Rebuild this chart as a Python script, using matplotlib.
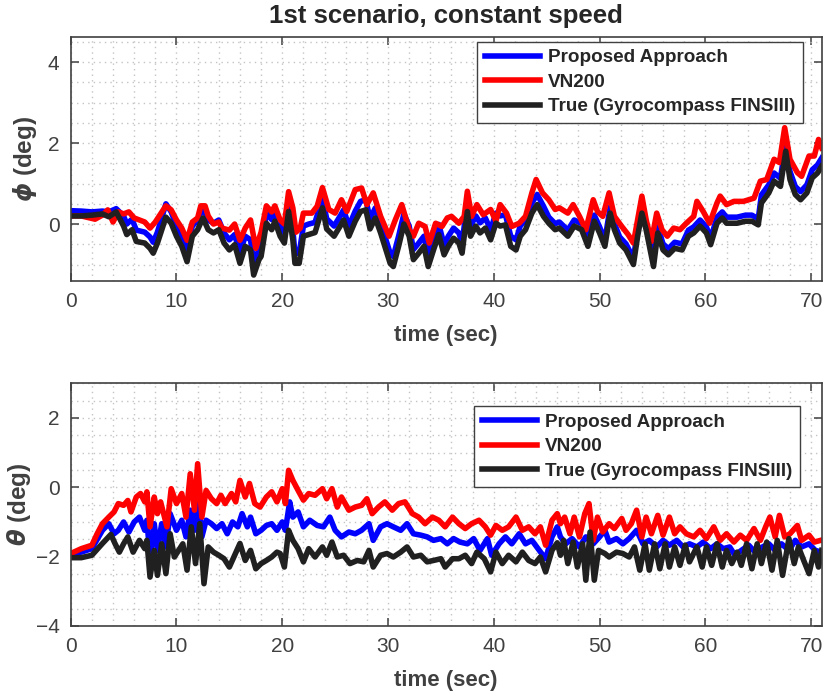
import matplotlib
matplotlib.use('Agg')
import matplotlib.pyplot as plt
from matplotlib.ticker import MultipleLocator

plt.rcParams['font.family'] = ['Liberation Sans', 'DejaVu Sans']
plt.rcParams['mathtext.fontset'] = 'custom'
plt.rcParams['mathtext.it'] = 'DejaVu Sans:italic:bold'
plt.rcParams['mathtext.rm'] = 'Liberation Sans:bold'

# ---- roll angle (phi) ----
phi_true_t = [0, 1, 2, 3, 3.6, 4.3, 5.0, 5.3, 5.8, 6.2,
              7.0, 7.5, 7.8, 8.2, 9.0, 9.5, 10.0, 10.5, 11.0, 11.5,
              12.0, 12.5, 13.0, 13.5, 14.0, 14.5, 15.0, 15.5, 16.0, 16.5,
              17.0, 17.3, 17.8, 18.0, 18.5, 19.0, 19.3, 19.8, 20.2, 20.6,
              21.0, 21.2, 21.6, 22.0, 22.5, 23.1, 23.8, 24.2, 24.9, 25.5,
              25.8, 26.3, 26.9, 27.4, 27.9, 28.3, 28.8, 29.3, 29.7, 30.2,
              30.5, 31.0, 31.5, 32.0, 32.4, 32.9, 33.4, 33.8, 34.3, 34.8,
              35.3, 35.7, 36.2, 36.7, 37.0, 37.5, 37.8, 38.3, 38.7, 39.2,
              39.7, 40.2, 40.6, 41.1, 41.6, 42.1, 42.5, 43.0, 43.6, 44.1,
              44.7, 45.2, 45.8, 46.2, 47.0, 47.6, 48.3, 48.9, 49.5, 50.0,
              50.5, 51.0, 51.4, 51.9, 52.5, 53.2, 53.6, 54.0, 54.4, 54.9,
              55.1, 55.5, 56.0, 56.5, 57.1, 57.8, 58.4, 58.9, 59.5, 60.1,
              60.5, 61.1, 61.6, 62.0, 63.0, 63.8, 64.4, 65.0, 65.3, 66.0,
              66.5, 67.1, 67.6, 68.0, 68.5, 69.0, 69.6, 70.1, 70.6, 71.0]
phi_true = [0.2, 0.2, 0.22, 0.25, 0.18, 0.3, -0.05, -0.26, -0.14, -0.43,
            -0.47, -0.6, -0.72, -0.47, 0.17, 0.02, -0.3, -0.55, -0.93, -0.3,
            -0.14, 0.15, -0.14, -0.22, -0.14, -0.47, -0.64, -0.51, -0.97, -0.55,
            -0.64, -1.26, -0.88, -0.8, 0.02, -0.14, 0.07, -0.3, -0.47, 0.31,
            -0.39, -0.97, -0.97, -0.3, -0.26, -0.21, 0.4, -0.12, -0.3, -0.04,
            0.1, -0.3, 0.07, 0.31, 0.35, -0.12, 0.15, -0.22, -0.55, -0.97,
            -1.05, -0.55, 0.0, -0.3, -0.88, -0.72, -0.55, -1.05, -0.64, -0.26,
            -0.76, -0.55, -0.35, -0.47, -0.72, 0.31, -0.3, -0.05, -0.22, -0.1,
            -0.39, 0.02, -0.05, -0.02, -0.55, -0.64, -0.3, -0.14, 0.27, 0.48,
            0.19, 0.02, -0.14, -0.1, -0.3, -0.05, -0.14, -0.55, 0.07, -0.22,
            -0.55, 0.27, -0.14, -0.47, -0.64, -1.0, -0.3, 0.27, -0.14, -0.8,
            -1.05, -0.22, -0.64, -0.76, -0.6, -0.64, -0.3, -0.22, -0.05, -0.22,
            -0.51, 0.02, 0.15, 0.02, 0.02, 0.07, 0.07, -0.02, 0.52, 0.77,
            1.06, 0.93, 1.8, 1.1, 0.73, 0.6, 0.77, 1.14, 1.26, 1.43]
# proposed approach sampled at the same instants as the reference
phi_prop = [0.33, 0.32, 0.3, 0.32, 0.3, 0.38, 0.2, 0.0, 0.12, -0.15,
            -0.2, -0.32, -0.45, -0.2, 0.5, 0.3, -0.05, -0.3, -0.6, -0.05,
            0.1, 0.4, 0.1, 0.02, 0.1, -0.22, -0.39, -0.26, -0.72, -0.3,
            -0.39, -0.95, -0.63, -0.55, 0.27, 0.11, 0.32, -0.05, -0.22, 0.56,
            -0.14, -0.72, -0.72, -0.05, 0.0, 0.04, 0.65, 0.13, -0.05, 0.21,
            0.35, -0.05, 0.32, 0.56, 0.6, 0.13, 0.4, 0.03, -0.3, -0.72,
            -0.8, -0.3, 0.25, -0.05, -0.63, -0.47, -0.3, -0.8, -0.39, -0.01,
            -0.51, -0.3, -0.1, -0.22, -0.47, 0.56, -0.05, 0.2, 0.03, 0.15,
            -0.14, 0.27, 0.2, 0.23, -0.3, -0.39, -0.05, 0.11, 0.52, 0.73,
            0.44, 0.17, 0.01, 0.05, -0.15, 0.1, 0.01, -0.4, 0.22, -0.07,
            -0.4, 0.42, 0.01, -0.32, -0.49, -0.85, -0.15, 0.42, 0.01, -0.65,
            -0.9, -0.07, -0.49, -0.61, -0.45, -0.49, -0.15, -0.07, 0.1, -0.07,
            -0.36, 0.17, 0.3, 0.17, 0.17, 0.22, 0.22, 0.13, 0.72, 0.97,
            1.26, 1.13, 2.0, 1.3, 0.93, 0.8, 0.97, 1.34, 1.46, 1.63]
phi_vn_t = [0, 1, 2.3, 3, 3.5, 4, 4.5, 5, 5.5, 6,
            6.5, 7, 7.5, 8, 8.5, 9, 9.5, 10, 10.5, 11,
            11.5, 12, 12.3, 12.7, 13, 13.5, 14, 14.3, 15, 15.5,
            16, 16.5, 17, 17.5, 18, 18.5, 19, 19.3, 19.8, 20.2,
            20.6, 21, 21.3, 21.7, 22, 22.8, 23.3, 23.8, 24.4, 25,
            25.6, 26.1, 26.9, 27.5, 28, 28.6, 29.3, 30.1, 30.7, 31.3,
            32, 32.4, 32.9, 33.5, 33.9, 34.5, 35.1, 35.6, 36, 36.7,
            37.2, 37.5, 37.9, 38.4, 39, 39.7, 40.2, 40.6, 41.2, 41.7,
            42.4, 43, 43.6, 44, 44.6, 45.2, 45.8, 46.2, 47, 47.5,
            48.1, 48.7, 49.4, 49.8, 50.3, 50.9, 51.4, 52.1, 52.7, 53.2,
            54, 54.4, 54.9, 55.4, 55.9, 56.4, 57, 57.6, 58.2, 58.9,
            59.2, 59.8, 60.4, 61.1, 61.4, 62, 62.7, 63.6, 64.6, 65.2,
            65.8, 66.5, 67, 67.5, 68, 68.7, 69.1, 69.8, 70.3, 70.7,
            71]
phi_vn = [0.2, 0.2, 0.12, 0.22, 0.35, 0.05, 0.3, 0.25, 0.3, 0.15,
          0.1, 0.05, -0.1, 0.05, 0.25, 0.45, 0.35, 0.1, -0.1, -0.4,
          0.05, 0.15, 0.45, 0.45, 0.2, 0.0, 0.05, -0.1, -0.15, 0.0,
          -0.4, -0.1, 0.1, -0.6, -0.2, 0.45, 0.3, 0.45, 0.1, 0.0,
          0.8, 0.4, -0.2, -0.1, 0.27, 0.27, 0.44, 0.9, 0.36, 0.27,
          0.6, 0.31, 0.85, 0.89, 0.48, 0.77, 0.19, -0.3, 0.11, 0.48,
          -0.14, -0.3, 0.02, -0.06, -0.47, 0.02, -0.06, 0.15, 0.19, 0.02,
          0.19, 0.81, 0.19, 0.48, 0.23, 0.36, 0.07, 0.48, 0.27, -0.06,
          0.02, 0.19, 0.77, 1.1, 0.77, 0.6, 0.36, 0.4, 0.27, 0.48,
          0.19, -0.14, 0.6, 0.31, 0.19, 0.77, 0.19, -0.06, -0.26, -0.47,
          0.69, 0.11, -0.43, 0.27, -0.14, -0.3, -0.1, -0.14, 0.02, 0.19,
          0.56, 0.31, 0.02, 0.52, 0.69, 0.48, 0.56, 0.56, 0.64, 1.06,
          1.1, 1.6, 1.52, 2.38, 1.6, 1.27, 1.18, 1.68, 1.68, 2.09,
          1.88]

# ---- pitch angle (theta) ----
th_true_t = [0, 1, 2, 3, 3.8, 4.2, 4.6, 5, 5.4, 5.9,
             6.5, 7, 7.2, 7.5, 7.9, 8.2, 8.6, 9.0, 9.4, 9.8,
             10.2, 10.6, 11, 11.4, 11.8, 12.2, 12.6, 13.0, 13.5, 14,
             14.5, 15, 15.5, 16, 16.5, 17, 17.5, 18, 18.5, 19,
             19.5, 19.8, 20.2, 20.6, 21, 21.5, 22, 22.5, 23.1, 23.8,
             24.2, 24.7, 25.2, 25.8, 26.4, 27.1, 27.7, 28.2, 28.6, 29.3,
             29.9, 30.5, 31.2, 31.8, 32.4, 33.1, 33.7, 34.3, 35.0, 35.4,
             36.1, 36.7, 37.3, 37.9, 38.4, 39.1, 39.7, 40.2, 40.8, 41.4,
             42.1, 42.7, 43.3, 43.9, 44.4, 44.9, 45.5, 46.0, 46.3, 46.6,
             47.0, 47.5, 47.9, 48.4, 48.7, 49.1, 49.5, 49.9, 50.5, 50.9,
             51.6, 52.2, 52.8, 53.3, 53.8, 54.3, 54.7, 55.2, 55.7, 56.2,
             56.6, 57.1, 57.6, 58.1, 58.5, 59.2, 59.7, 60.1, 60.6, 61.1,
             61.6, 62.0, 62.5, 63.0, 63.4, 63.9, 64.4, 64.9, 65.3, 65.8,
             66.3, 66.8, 67.3, 67.9, 68.4, 68.8, 69.3, 69.8, 70.3, 70.7,
             71.0]
th_true = [-2.03, -2.03, -1.96, -1.62, -1.36, -1.63, -1.87, -1.63, -1.43, -1.87,
           -1.53, -1.77, -1.53, -2.59, -1.82, -2.54, -1.63, -2.49, -1.34, -2.01,
           -1.82, -1.63, -2.39, -1.14, -2.2, -1.05, -2.78, -1.72, -1.87, -1.96,
           -2.06, -2.3, -1.96, -1.62, -2.11, -1.82, -2.35, -2.2, -2.11, -2.01,
           -1.87, -1.91, -2.3, -1.24, -1.53, -1.77, -2.15, -1.77, -2.01, -1.72,
           -1.96, -1.58, -2.01, -1.96, -2.2, -2.11, -2.15, -1.82, -2.3, -1.96,
           -1.91, -2.01, -1.87, -1.72, -2.01, -1.96, -2.15, -2.11, -2.06, -2.3,
           -2.06, -2.06, -1.96, -2.2, -1.87, -2.06, -2.44, -1.87, -2.2, -1.96,
           -2.15, -1.87, -2.11, -2.2, -2.01, -2.44, -1.82, -1.6, -1.96, -1.53,
           -2.2, -1.58, -2.3, -1.63, -2.68, -1.29, -2.68, -1.82, -1.91, -2.01,
           -1.87, -1.91, -2.01, -1.72, -2.39, -1.63, -2.39, -1.63, -2.35, -1.63,
           -2.3, -1.72, -2.25, -1.67, -2.15, -1.72, -2.3, -1.72, -2.25, -1.63,
           -2.3, -1.82, -2.2, -1.87, -2.25, -1.63, -2.35, -1.63, -2.2, -1.58,
           -2.39, -1.53, -2.54, -1.48, -2.2, -1.72, -2.11, -2.49, -1.82, -2.3,
           -1.82]
th_vn_t = [0, 1, 2, 2.5, 3, 3.6, 4.1, 4.5, 5, 5.4,
           5.7, 6.2, 6.6, 7, 7.2, 7.5, 7.9, 8.2, 8.5, 9.1,
           9.5, 10, 10.5, 10.9, 11.3, 11.7, 12.0, 12.4, 12.8, 13.3,
           13.8, 14.2, 14.6, 15.2, 15.6, 16, 16.5, 16.9, 17.4, 17.9,
           18.5, 19, 19.5, 20, 20.3, 20.6, 21, 21.5, 22, 22.5,
           23.1, 23.8, 24.2, 24.7, 25.2, 25.6, 26.3, 26.9, 27.5, 28.0,
           28.5, 29.1, 29.7, 30.4, 31.0, 31.6, 32.3, 32.9, 33.5, 34.2,
           34.8, 35.4, 36.1, 36.7, 37.3, 37.9, 38.6, 39.2, 39.7, 40.2,
           40.8, 41.4, 42.1, 42.7, 43.3, 43.9, 44.4, 44.9, 45.5, 46.0,
           46.3, 46.7, 47.2, 47.6, 48.1, 48.6, 49.0, 49.4, 49.8, 50.3,
           50.9, 51.4, 52.1, 52.5, 53.0, 53.5, 54.0, 54.4, 54.9, 55.5,
           56.0, 56.6, 57.1, 57.6, 58.2, 58.9, 59.5, 60.1, 60.8, 61.4,
           62.0, 62.7, 63.3, 63.9, 64.6, 65.2, 65.7, 66.1, 66.6, 67.0,
           67.5, 68.0, 68.7, 69.1, 69.8, 70.3, 70.9]
th_vn = [-1.91, -1.77, -1.67, -1.34, -1.05, -0.86, -0.71, -0.47, -0.52, -0.38,
         -0.71, -0.28, -0.18, -0.42, -0.13, -1.14, -0.28, -0.76, -0.42, -1.14,
         -0.04, -0.47, -0.18, -0.86, 0.39, -0.66, 0.68, -0.86, -0.09, -0.33,
         -0.47, -0.23, -0.47, -0.18, -0.42, 0.2, -0.28, 0.11, -0.47, -0.57,
         -0.28, -0.13, -0.42, -0.04, -0.47, 0.49, 0.2, -0.09, -0.37, -0.18,
         -0.23, -0.04, -0.33, -0.04, -0.57, -0.28, -0.66, -0.57, -0.52, -0.33,
         -0.76, -0.57, -0.42, -0.66, -0.47, -0.42, -0.76, -0.86, -1.05, -0.86,
         -0.95, -1.14, -0.86, -1.05, -1.19, -1.05, -0.95, -1.14, -1.38, -1.1,
         -1.24, -1.14, -0.86, -1.24, -1.14, -1.34, -1.14, -1.67, -0.95, -0.76,
         -1.05, -0.86, -1.34, -0.86, -1.43, -0.76, -0.47, -1.53, -0.86, -1.29,
         -1.05, -1.19, -0.9, -1.24, -1.05, -0.66, -1.43, -0.86, -1.34, -0.81,
         -1.38, -0.86, -1.34, -1.14, -1.34, -1.43, -1.24, -1.48, -1.14, -1.53,
         -1.34, -1.58, -1.38, -1.53, -1.19, -1.53, -1.14, -0.86, -1.43, -0.81,
         -1.43, -1.34, -1.1, -1.53, -1.38, -1.58, -1.53]
th_prop_t = [0, 1, 2, 3, 3.6, 4.1, 4.5, 5, 5.5, 6,
             6.5, 7, 7.2, 7.5, 7.9, 8.2, 8.6, 9.0, 9.4, 10,
             10.5, 10.9, 11.3, 11.7, 12.0, 12.4, 12.8, 13.3, 13.8, 14.3,
             14.8, 15.3, 15.8, 16.2, 16.7, 17, 17.5, 18, 18.5, 19,
             19.5, 20, 20.3, 20.7, 21, 21.5, 22, 22.6, 23.3, 23.9,
             24.5, 25.0, 25.6, 26.3, 26.9, 27.5, 28.2, 28.6, 29.3, 29.9,
             30.5, 31.2, 31.8, 32.4, 33.1, 33.7, 34.3, 35.0, 35.6, 36.2,
             36.8, 37.5, 38.1, 38.7, 39.4, 39.8, 40.5, 41.1, 41.7, 42.4,
             43.0, 43.6, 44.3, 44.9, 45.5, 46.0, 46.3, 46.8, 47.4, 48.1,
             48.7, 49.4, 50.0, 50.5, 50.9, 51.6, 52.2, 52.8, 53.5, 54.1,
             54.7, 55.4, 56.0, 56.6, 57.3, 57.9, 58.5, 59.2, 59.8, 60.5,
             61.1, 61.7, 62.3, 62.8, 63.4, 64.1, 64.7, 65.4, 66.0, 66.6,
             67.2, 67.9, 68.5, 69.1, 69.8, 70.4, 71.0]
th_prop = [-1.91, -1.87, -1.77, -1.24, -1.05, -1.34, -1.24, -1.0, -1.29, -1.0,
           -0.86, -1.24, -0.95, -2.01, -1.05, -1.82, -1.05, -1.72, -0.76, -1.24,
           -0.95, -1.43, -0.66, -1.24, -0.18, -1.43, -0.95, -1.05, -1.19, -1.05,
           -1.34, -1.0, -1.14, -0.76, -1.14, -0.86, -1.34, -1.24, -1.1, -1.05,
           -1.24, -1.0, -1.24, -0.42, -0.86, -0.71, -1.14, -0.95, -1.1, -1.14,
           -0.86, -1.24, -1.43, -1.29, -1.34, -1.24, -1.05, -1.53, -1.14, -1.05,
           -1.14, -1.24, -1.05, -1.34, -1.38, -1.43, -1.53, -1.48, -1.63, -1.48,
           -1.58, -1.63, -1.48, -1.82, -1.48, -1.96, -1.63, -1.43, -1.63, -1.34,
           -1.63, -1.53, -1.82, -2.06, -1.43, -1.14, -1.43, -1.63, -1.48, -1.72,
           -1.43, -1.63, -1.43, -1.24, -1.58, -1.48, -1.63, -1.48, -1.24, -1.63,
           -1.53, -1.72, -1.53, -1.67, -1.53, -1.72, -1.63, -1.72, -1.58, -1.77,
           -1.63, -1.77, -1.72, -1.96, -1.82, -1.67, -1.87, -1.72, -1.63, -1.82,
           -1.63, -1.82, -1.53, -1.72, -1.63, -1.82, -1.87]

labels = ['Proposed Approach', 'VN200', 'True (Gyrocompass FINSIII)']
colors = ['#0000ff', '#ff0000', '#202020']
axis_col = '#404040'
lw = 4.0

fig = plt.figure(figsize=(8.25, 6.95), dpi=100)
ax1 = fig.add_axes([0.0857, 0.5961, 0.9103, 0.3506])
ax2 = fig.add_axes([0.0857, 0.0993, 0.9103, 0.3492])


def style(ax, ylim, yticks, ylabel, label_x):
    ax.set_xlim(0, 71)
    ax.set_ylim(*ylim)
    ax.set_xticks(range(0, 71, 10))
    ax.set_yticks(yticks)
    ax.xaxis.set_minor_locator(MultipleLocator(2))
    ax.yaxis.set_minor_locator(MultipleLocator(0.5))
    ax.grid(True, which='both', linestyle=(0, (1, 3)), color='#c4c4c4',
            linewidth=1.0)
    ax.set_axisbelow(True)
    ax.tick_params(which='major', direction='in', top=True, right=True,
                   length=6, width=1.1, colors=axis_col, labelsize=15,
                   labelcolor=axis_col, pad=8)
    ax.tick_params(which='minor', length=0, top=True, right=True)
    for s in ax.spines.values():
        s.set_color(axis_col)
        s.set_linewidth(1.2)
    ax.set_xlabel('time (sec)', fontsize=16, fontweight='bold',
                  color=axis_col, labelpad=10)
    ax.set_ylabel(ylabel, fontsize=17.5, fontweight='bold', color=axis_col)
    ax.yaxis.set_label_coords(label_x, 0.5)


ax1.plot(phi_true_t, phi_prop, color=colors[0], lw=lw, label=labels[0])
ax1.plot(phi_vn_t, phi_vn, color=colors[1], lw=lw, label=labels[1])
ax1.plot(phi_true_t, phi_true, color=colors[2], lw=lw, label=labels[2])
style(ax1, (-1.4, 4.62), [0, 2, 4], r'$\phi$ (deg)', -0.042)
ax1.set_title('1st scenario, constant speed', fontsize=18.5,
              fontweight='bold', color='#262626', pad=10)

ax2.plot(th_prop_t, th_prop, color=colors[0], lw=lw, label=labels[0])
ax2.plot(th_vn_t, th_vn, color=colors[1], lw=lw, label=labels[1])
ax2.plot(th_true_t, th_true, color=colors[2], lw=lw, label=labels[2])
style(ax2, (-4, 3), [-4, -2, 0, 2], r'$\theta$ (deg)', -0.05)

for ax, anchor in ((ax1, (0.9733, 0.94)), (ax2, (0.9697, 0.4158))):
    leg = ax.legend(loc='upper right', bbox_to_anchor=anchor,
                    bbox_transform=fig.transFigure, borderaxespad=0,
                    fancybox=False, framealpha=1, edgecolor=axis_col,
                    prop={'weight': 'bold', 'size': 13.6},
                    handlelength=2.9, handletextpad=0.45, labelspacing=0.38,
                    borderpad=0.4)
    leg.get_frame().set_linewidth(1.0)
    for txt in leg.get_texts():
        txt.set_color('#262626')

fig.savefig('out.png', dpi=100)
